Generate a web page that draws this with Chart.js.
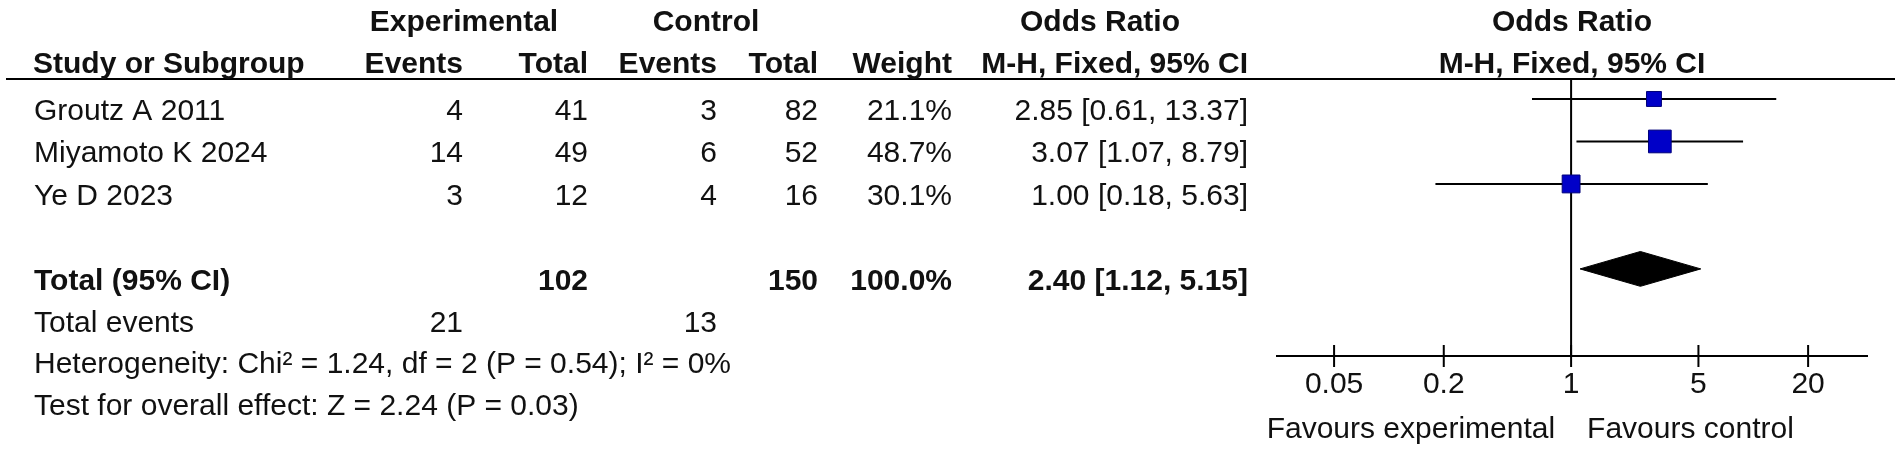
<!DOCTYPE html>
<html>
<head>
<meta charset="utf-8">
<script src="https://cdn.jsdelivr.net/npm/chart.js@4.4.1/dist/chart.umd.min.js"></script>
<style>
  html, body { margin: 0; padding: 0; background: #fff; }
  #wrap { width: 1901px; height: 449px; position: relative; }
</style>
</head>
<body>
<div id="wrap"><canvas id="forest"></canvas></div>
<script>
// per-study data
const studies = ['Groutz A 2011', 'Miyamoto K 2024', 'Ye D 2023'];
const expEvents = [4, 14, 3];
const expTotal = [41, 49, 12];
const ctrlEvents = [3, 6, 4];
const ctrlTotal = [82, 52, 16];
const weights = [21.1, 48.7, 30.1];
const oddsRatio = [2.85, 3.07, 1.00];
const ciLow = [0.61, 1.07, 0.18];
const ciHigh = [13.37, 8.79, 5.63];

// pooled result
const pooledOR = 2.40;
const pooledLow = 1.12;
const pooledHigh = 5.15;
const pooledExpTotal = 102;
const pooledCtrlTotal = 150;
const totalExpEvents = 21;
const totalCtrlEvents = 13;
const heterogeneityText = 'Heterogeneity: Chi\u00B2 = 1.24, df = 2 (P = 0.54); I\u00B2 = 0%';
const overallText = 'Test for overall effect: Z = 2.24 (P = 0.03)';

// x axis ticks
const tickValues = [0.05, 0.2, 1, 5, 20];
const tickLabels = ['0.05', '0.2', '1', '5', '20'];

// row layout (in row units of the y scale)
const TOTAL_ROW = 4;
const Y_MIN = -0.47;
const Y_MAX = 6.05;
const FONT = '"Liberation Sans", Arial, sans-serif';
const INK = '#111';

const fmt2 = v => v.toFixed(2);
const orText = (o, l, h) => `${fmt2(o)} [${fmt2(l)}, ${fmt2(h)}]`;

// squares: one point per study, size from weight
const squares = {
    type: 'scatter',
    order: 0,
    data: studies.map((s, i) => ({ x: oddsRatio[i], y: i })),
    pointStyle: 'rect',
    pointRadius: weights.map(w => 2.3 * Math.sqrt(w)),
    backgroundColor: '#0000c8',
    borderColor: '#00007a',
    borderWidth: 1,
    clip: false
};

// confidence interval whiskers
const ciLines = studies.map((s, i) => ({
    type: 'line',
    order: 2,
    data: [{ x: ciLow[i], y: i }, { x: ciHigh[i], y: i }],
    borderColor: '#000',
    borderWidth: 2,
    pointRadius: 0
}));

// pooled diamond
const DH = 0.41;
const diamond = {
    type: 'line',
    order: 1,
    data: [
        { x: pooledLow, y: TOTAL_ROW },
        { x: pooledOR, y: TOTAL_ROW - DH },
        { x: pooledHigh, y: TOTAL_ROW },
        { x: pooledOR, y: TOTAL_ROW + DH },
        { x: pooledLow, y: TOTAL_ROW }
    ],
    borderColor: '#000',
    backgroundColor: '#000',
    borderWidth: 1,
    pointRadius: 0,
    tension: 0,
    fill: 'shape'
};

// line of no effect
const refLine = {
    type: 'line',
    order: 3,
    data: [{ x: 1, y: Y_MIN }, { x: 1, y: Y_MAX }],
    borderColor: '#000',
    borderWidth: 2,
    pointRadius: 0
};

// table, headers and axis decorations
const forestText = {
    id: 'forestText',
    afterDraw(chart) {
        const ctx = chart.ctx;
        const ys = chart.scales.y;
        const xs = chart.scales.x;
        const area = chart.chartArea;
        const base = row => ys.getPixelForValue(row) + 21;

        function txt(str, x, row, align, bold) {
            ctx.font = (bold ? 'bold ' : '') + '30px ' + FONT;
            ctx.fillStyle = INK;
            ctx.textAlign = align;
            ctx.textBaseline = 'alphabetic';
            ctx.fillText(str, x, typeof row === 'number' ? base(row) : row.px);
        }

        ctx.save();

        // header rule
        ctx.strokeStyle = '#000';
        ctx.lineWidth = 2;
        ctx.beginPath();
        ctx.moveTo(6, area.top);
        ctx.lineTo(1895, area.top);
        ctx.stroke();

        // tick marks crossing the axis
        ctx.beginPath();
        xs.ticks.forEach(t => {
            const px = xs.getPixelForValue(t.value);
            ctx.moveTo(px, area.bottom - 11);
            ctx.lineTo(px, area.bottom + 11);
        });
        ctx.stroke();

        // headers
        const H1 = -2.1, H2 = -1.1;
        txt('Experimental', 464, H1, 'center', true);
        txt('Control', 706, H1, 'center', true);
        txt('Odds Ratio', 1100, H1, 'center', true);
        const plotMid = (area.left + area.right) / 2;
        txt('Odds Ratio', plotMid, H1, 'center', true);

        txt('Study or Subgroup', 33, H2, 'left', true);
        txt('Events', 463, H2, 'right', true);
        txt('Total', 588, H2, 'right', true);
        txt('Events', 717, H2, 'right', true);
        txt('Total', 818, H2, 'right', true);
        txt('Weight', 952, H2, 'right', true);
        txt('M-H, Fixed, 95% CI', 1248, H2, 'right', true);
        txt('M-H, Fixed, 95% CI', plotMid, H2, 'center', true);

        // study rows
        studies.forEach((s, i) => {
            txt(s, 34, i, 'left', false);
            txt(String(expEvents[i]), 463, i, 'right', false);
            txt(String(expTotal[i]), 588, i, 'right', false);
            txt(String(ctrlEvents[i]), 717, i, 'right', false);
            txt(String(ctrlTotal[i]), 818, i, 'right', false);
            txt(weights[i].toFixed(1) + '%', 952, i, 'right', false);
            txt(orText(oddsRatio[i], ciLow[i], ciHigh[i]), 1248, i, 'right', false);
        });

        // total row
        txt('Total (95% CI)', 34, TOTAL_ROW, 'left', true);
        txt(String(pooledExpTotal), 588, TOTAL_ROW, 'right', true);
        txt(String(pooledCtrlTotal), 818, TOTAL_ROW, 'right', true);
        txt('100.0%', 952, TOTAL_ROW, 'right', true);
        txt(orText(pooledOR, pooledLow, pooledHigh), 1248, TOTAL_ROW, 'right', true);

        // footer
        txt('Total events', 34, 5, 'left', false);
        txt(String(totalExpEvents), 463, 5, 'right', false);
        txt(String(totalCtrlEvents), 717, 5, 'right', false);
        txt(heterogeneityText, 34, 5.95, 'left', false);
        txt(overallText, 34, 6.95, 'left', false);

        // favours labels
        const x1 = xs.getPixelForValue(1);
        txt('Favours experimental', x1 - 16, { px: area.bottom + 82 }, 'right', false);
        txt('Favours control', x1 + 16, { px: area.bottom + 82 }, 'left', false);

        ctx.restore();
    }
};

new Chart(document.getElementById('forest'), {
    type: 'scatter',
    data: { datasets: [squares, diamond, ...ciLines, refLine] },
    options: {
        responsive: true,
        maintainAspectRatio: false,
        animation: false,
        layout: { padding: { left: 1277, right: 34, top: 79, bottom: 0 } },
        plugins: {
            legend: { display: false },
            tooltip: { enabled: false }
        },
        scales: {
            x: {
                type: 'logarithmic',
                position: 'bottom',
                min: 0.0243,
                max: 42.1,
                afterBuildTicks: s => { s.ticks = tickValues.map(v => ({ value: v })); },
                afterFit: s => { s.height = 93; },
                grid: { display: false, drawTicks: false },
                border: { display: true, color: '#000', width: 2 },
                ticks: {
                    autoSkip: false,
                    maxRotation: 0,
                    padding: 11,
                    color: INK,
                    font: { family: FONT, size: 30 },
                    callback: (v, i) => tickLabels[i]
                }
            },
            y: {
                type: 'linear',
                display: false,
                reverse: true,
                min: Y_MIN,
                max: Y_MAX
            }
        }
    },
    plugins: [forestText]
});
</script>
</body>
</html>
